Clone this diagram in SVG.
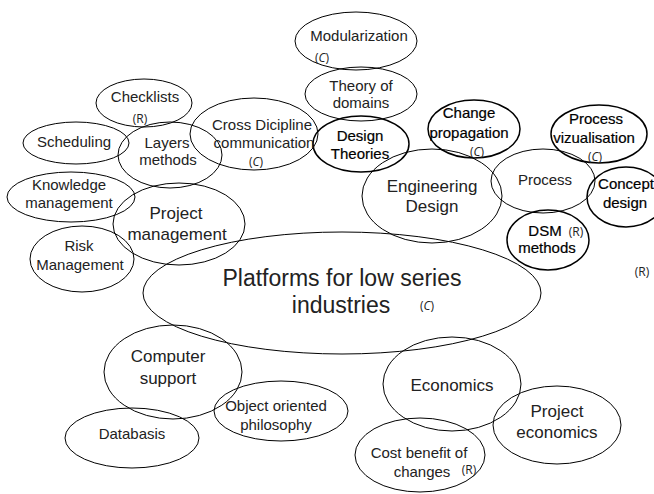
<svg xmlns="http://www.w3.org/2000/svg" width="654" height="494" viewBox="0 0 654 494">
<style>
.e{fill:none;stroke:#000;stroke-width:1}
.eb{fill:none;stroke:#000;stroke-width:1.5}
text{font-family:"Liberation Sans",Arial,sans-serif;text-anchor:middle;fill:#222}
.s{font-size:15px}
.m{font-size:17px}
.b{fill:#000;stroke:#000;stroke-width:0.2}
.t{font-family:"Open Sans","DejaVu Sans",sans-serif;font-size:12px;fill:#222}
.i{font-style:italic}
</style>
<rect width="654" height="494" fill="#fff"/>
<g id="connectors"></g>
<g id="platforms">
<ellipse class="e" cx="342" cy="293" rx="199" ry="61"/>
<text x="342" y="286" font-size="23">Platforms for low series</text>
<text x="341" y="313" font-size="23">industries</text>
<text class="t" x="427" y="310" font-size="10">(<tspan class="i">C</tspan>)</text>
</g>
<g id="modularization">
<ellipse class="e" cx="356" cy="41" rx="61" ry="29"/>
<text class="s" x="359" y="41">Modularization</text>
<text class="t" x="322" y="62">(<tspan class="i">C</tspan>)</text>
</g>
<g id="theory-of-domains">
<ellipse class="e" cx="361" cy="94" rx="56" ry="27"/>
<text class="s" x="361" y="91">Theory of</text>
<text class="s" x="361" y="108">domains</text>
</g>
<g id="design-theories">
<ellipse class="eb" cx="361" cy="144" rx="48" ry="28"/>
<text class="s b" x="360" y="141">Design</text>
<text class="s b" x="360" y="159">Theories</text>
</g>
<g id="change-propagation">
<ellipse class="eb" cx="474" cy="129" rx="46" ry="29"/>
<text class="s b" x="469" y="118">Change</text>
<text class="s b" x="469" y="138">propagation</text>
<text class="t" x="477" y="156">(<tspan class="i">C</tspan>)</text>
</g>
<g id="process-vizualisation">
<ellipse class="eb" cx="599" cy="134" rx="48" ry="29"/>
<text class="s b" x="596" y="124">Process</text>
<text class="s b" x="594" y="143">vizualisation</text>
<text class="t" x="595" y="161">(<tspan class="i">C</tspan>)</text>
</g>
<g id="engineering-design">
<ellipse class="e" cx="432" cy="196" rx="70" ry="47"/>
<text class="m" x="432" y="192">Engineering</text>
<text class="m" x="432" y="212">Design</text>
</g>
<g id="process">
<ellipse class="e" cx="543" cy="181" rx="52" ry="32"/>
<text class="s" x="545" y="185">Process</text>
</g>
<g id="concept-design">
<ellipse class="eb" cx="626" cy="197" rx="39" ry="30"/>
<text class="s b" x="626" y="189">Concept</text>
<text class="s b" x="625" y="208">design</text>
</g>
<g id="dsm-methods">
<ellipse class="eb" cx="548" cy="240" rx="41" ry="30"/>
<text class="s b" x="545" y="236">DSM</text>
<text class="t" x="576" y="236">(R)</text>
<text class="s b" x="547" y="253">methods</text>
</g>
<g id="r-note">
<text class="t" x="642" y="276">(R)</text>
</g>
<g id="checklists">
<ellipse class="e" cx="144" cy="103" rx="48" ry="24"/>
<text class="s" x="145" y="102">Checklists</text>
<text class="t" x="140" y="123">(R)</text>
</g>
<g id="scheduling">
<ellipse class="e" cx="76" cy="143" rx="53" ry="21"/>
<text class="s" x="74" y="147">Scheduling</text>
</g>
<g id="layers-methods">
<ellipse class="e" cx="170" cy="155" rx="52" ry="33"/>
<text class="s" x="167" y="148">Layers</text>
<text class="s" x="168" y="165">methods</text>
</g>
<g id="cross-dicipline">
<ellipse class="e" cx="254" cy="134" rx="64" ry="36"/>
<text class="s" x="262" y="130">Cross Dicipline</text>
<text class="s" x="264" y="148">communication</text>
<text class="t" x="256" y="166">(<tspan class="i">C</tspan>)</text>
</g>
<g id="knowledge-management">
<ellipse class="e" cx="71" cy="197" rx="64" ry="25"/>
<text class="s" x="69" y="190">Knowledge</text>
<text class="s" x="69" y="208">management</text>
</g>
<g id="project-management">
<ellipse class="e" cx="179" cy="224" rx="66" ry="41"/>
<text class="m" x="176" y="219">Project</text>
<text class="m" x="177" y="240">management</text>
</g>
<g id="risk-management">
<ellipse class="e" cx="82" cy="259" rx="52" ry="33"/>
<text class="s" x="79" y="251">Risk</text>
<text class="s" x="80" y="270">Management</text>
</g>
<g id="computer-support">
<ellipse class="e" cx="173" cy="372" rx="69" ry="47"/>
<text class="m" x="168" y="362">Computer</text>
<text class="m" x="168" y="384">support</text>
</g>
<g id="databasis">
<ellipse class="e" cx="132" cy="438" rx="67" ry="30"/>
<text class="s" x="132" y="439">Databasis</text>
</g>
<g id="object-oriented">
<ellipse class="e" cx="281" cy="411" rx="67" ry="30"/>
<text class="s" x="276" y="411">Object oriented</text>
<text class="s" x="276" y="430">philosophy</text>
</g>
<g id="economics">
<ellipse class="e" cx="452" cy="384" rx="69" ry="47"/>
<text class="m" x="452" y="391">Economics</text>
</g>
<g id="project-economics">
<ellipse class="e" cx="557" cy="425" rx="64" ry="39"/>
<text class="m" x="557" y="417">Project</text>
<text class="m" x="557" y="438">economics</text>
</g>
<g id="cost-benefit">
<ellipse class="e" cx="420" cy="455" rx="65" ry="37"/>
<text class="s" x="419" y="458">Cost benefit of</text>
<text class="s" x="422" y="477">changes</text>
<text class="t" x="469" y="474">(R)</text>
</g>
</svg>
